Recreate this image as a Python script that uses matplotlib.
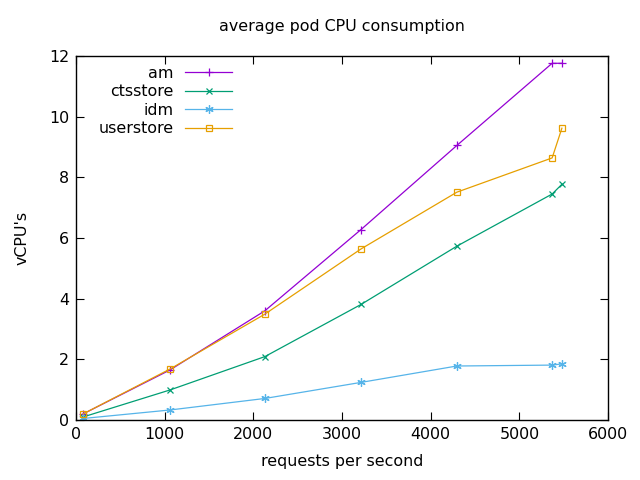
import matplotlib
matplotlib.use("Agg")
import matplotlib.pyplot as plt

x = [80, 1060, 2130, 3215, 4295, 5370, 5480]
am = [0.20, 1.65, 3.60, 6.28, 9.05, 11.76, 11.76]
ctsstore = [0.10, 0.99, 2.09, 3.81, 5.73, 7.45, 7.77]
idm = [0.05, 0.33, 0.71, 1.24, 1.78, 1.81, 1.85]
userstore = [0.20, 1.68, 3.49, 5.64, 7.51, 8.64, 9.62]

plt.rcParams['font.family'] = ['DejaVu Sans']
fig = plt.figure(figsize=(6.4, 4.8), dpi=100)
ax = fig.add_axes([76/640, 1-420/480, (608-76)/640, (420-56)/480])

lw = 0.9
fs = 11.4
ax.plot(x, am, color='#9400d3', marker='+', ms=6, mew=0.9, lw=lw, label='am')
ax.plot(x, ctsstore, color='#009e73', marker='x', ms=4.5, mew=0.9, lw=lw, label='ctsstore')
ax.plot(x, idm, color='#56b4e9', marker=(6, 2, 0), ms=6, mew=0.9, lw=lw, label='idm')
ax.plot(x, userstore, color='#e69f00', marker='s', ms=4.5, mew=0.9, mfc='none', lw=lw, label='userstore')

ax.set_xlim(0, 6000)
ax.set_ylim(0, 12)
ax.set_xticks(range(0, 6001, 1000))
ax.set_yticks(range(0, 13, 2))
ax.tick_params(direction='in', top=True, right=True, length=6, labelsize=fs, pad=5)
for s in ax.spines.values():
    s.set_linewidth(1.0)

ax.set_title('average pod CPU consumption', fontsize=fs, pad=18)
ax.set_xlabel('requests per second', fontsize=fs, labelpad=9)
ax.set_ylabel("vCPU's", fontsize=fs, labelpad=14)

leg = ax.legend(loc='upper left', bbox_to_anchor=(0.021, 1.003), frameon=False, markerfirst=False,
                fontsize=fs, handlelength=2.95, labelspacing=0.22, handletextpad=0.75,
                borderaxespad=0.3)
for t in leg.get_texts():
    t.set_ha('right')

fig.savefig('out.png', dpi=100)
